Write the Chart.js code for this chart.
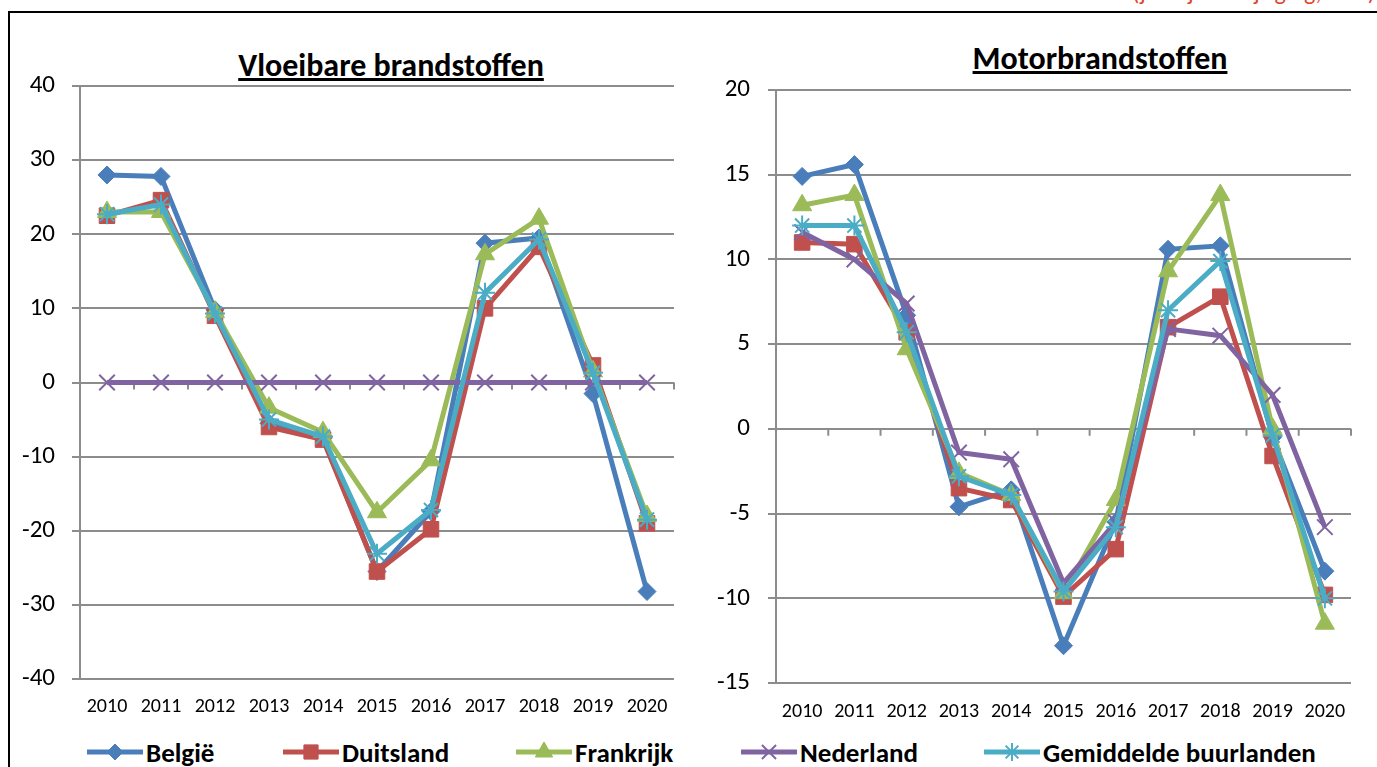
<!DOCTYPE html>
<html>
<head>
  <title>Vloeibare brandstoffen en motorbrandstoffen</title>
  <script src="https://cdn.jsdelivr.net/npm/chart.js"></script>
  <style>
    body {
      margin: 0;
      background: #fff;
      width: 1377px;
      height: 767px;
      overflow: hidden;
      position: relative;
      font-family: Carlito, 'Liberation Sans', Arial, sans-serif;
    }
    .frame {
      position: absolute;
      left: 8px;
      top: 11px;
      width: 1400px;
      height: 800px;
      border-top: 2px solid #000;
      border-left: 2px solid #000;
    }
    .note {
      position: absolute;
      right: 2px;
      top: -20px;
      color: #e0442a;
      font-size: 24px;
      line-height: 24px;
      white-space: nowrap;
    }
    .title {
      position: absolute;
      width: 420px;
      font-weight: bold;
      font-size: 32px;
      line-height: 36px;
      text-decoration: underline;
      text-align: center;
    }
    .box { position: absolute; }
    .item {
      position: absolute;
      top: 737px;
      height: 30px;
      display: flex;
      align-items: center;
      font-weight: bold;
      font-size: 27px;
      white-space: nowrap;
    }
    .item canvas { margin-right: 2px; }
  </style>
</head>
<body>

  <div class="note">(jaarlijkse wijziging, in %)</div>
  <div class="frame"></div>

  <div class="title" style="left:181px; top:48px;">Vloeibare brandstoffen</div>
  <div class="title" style="left:890px; top:41px;">Motorbrandstoffen</div>

  <canvas id="leftChart" class="box" width="680" height="660" style="left:10px; top:66px;"></canvas>
  <canvas id="rightChart" class="box" width="670" height="660" style="left:700px; top:70px;"></canvas>

  <div id="legend"></div>

  <script>
    // categories
    const years = ['2010', '2011', '2012', '2013', '2014', '2015', '2016', '2017', '2018', '2019', '2020'];
    const seriesNames = ['België', 'Duitsland', 'Frankrijk', 'Nederland', 'Gemiddelde buurlanden'];

    // Vloeibare brandstoffen (left)
    const belgieVloei = [28.0, 27.8, 9.8, -5.5, -7.5, -25.5, -17.4, 18.8, 19.5, -1.5, -28.2];
    const duitsVloei  = [22.5, 24.6, 9.0, -6.0, -7.7, -25.5, -19.8, 10.0, 18.3, 2.3, -19.0];
    const frankVloei  = [23.0, 23.0, 9.5, -3.4, -6.7, -17.5, -10.5, 17.3, 22.1, 1.5, -18.0];
    const nedVloei    = [0, 0, 0, 0, 0, 0, 0, 0, 0, 0, 0];
    const gemVloei    = [22.7, 24.0, 9.3, -5.0, -7.3, -23.1, -17.2, 12.1, 19.3, 1.3, -18.5];

    // Motorbrandstoffen (right)
    const belgieMotor = [14.9, 15.6, 6.7, -4.6, -3.6, -12.8, -5.5, 10.6, 10.8, -0.5, -8.4];
    const duitsMotor  = [11.0, 10.9, 5.7, -3.5, -4.2, -9.9, -7.1, 6.0, 7.8, -1.6, -9.8];
    const frankMotor  = [13.2, 13.8, 4.7, -2.6, -3.9, -9.7, -4.2, 9.3, 13.8, 0.0, -11.5];
    const nedMotor    = [11.6, 10.0, 7.4, -1.4, -1.8, -9.1, -5.5, 5.9, 5.5, 2.0, -5.8];
    const gemMotor    = [12.0, 12.0, 5.7, -2.8, -3.9, -9.6, -5.8, 7.0, 9.9, -0.4, -10.0];

    // axis ranges [min, max, step]
    const leftAxis = [-40, 40, 10];
    const rightAxis = [-15, 20, 5];

    const colors = ['#4a7ebb', '#c0504d', '#9bbb59', '#8064a2', '#4bacc6'];
    const styles = ['rectRot', 'rect', 'triangle', 'crossRot', 'star'];
    const radii = [9, 11, 11, 11, 10];
    const gridColor = '#8c8c8c';
    const fontFamily = "Carlito, 'Liberation Sans', Arial, sans-serif";

    // little tick marks on the category axis (at zero), between categories
    const catTicks = {
      id: 'catTicks',
      beforeDatasetsDraw(chart) {
        const x = chart.scales.x, y = chart.scales.y, ctx = chart.ctx;
        const y0 = y.getPixelForValue(0);
        const w = (x.right - x.left) / years.length;
        ctx.save();
        ctx.strokeStyle = gridColor;
        ctx.lineWidth = 2;
        ctx.beginPath();
        for (let i = 0; i <= years.length; i++) {
          const px = x.left + i * w;
          ctx.moveTo(px, y0);
          ctx.lineTo(px, y0 + 7);
        }
        ctx.stroke();
        ctx.restore();
      }
    };

    function makeChart(id, data, axis, yWidth, padRight, yPad, xPad) {
      const datasets = data.map((vals, i) => ({
        label: seriesNames[i],
        data: vals,
        borderColor: colors[i],
        backgroundColor: colors[i],
        borderWidth: 5,
        pointStyle: styles[i],
        pointRadius: radii[i],
        pointBorderWidth: i >= 3 ? 2 : 1,
        tension: 0,
        order: 4 - i
      }));
      return new Chart(document.getElementById(id), {
        type: 'line',
        data: { labels: years, datasets: datasets },
        options: {
          responsive: false,
          animation: false,
          layout: { padding: { top: 20, right: padRight, left: 0, bottom: 0 } },
          plugins: { legend: { display: false }, tooltip: { enabled: false } },
          scales: {
            x: {
              offset: true,
              grid: { display: false, drawTicks: false },
              border: { display: false },
              ticks: { color: '#000', padding: xPad, maxRotation: 0, font: { family: fontFamily, size: 20 } },
              afterFit: s => { s.height = 47; }
            },
            y: {
              min: axis[0],
              max: axis[1],
              ticks: { stepSize: axis[2], color: '#000', padding: yPad, font: { family: fontFamily, size: 25 } },
              grid: { color: gridColor, lineWidth: 2, tickLength: 8, tickColor: gridColor },
              border: { display: true, color: gridColor, width: 2 },
              afterFit: s => { s.width = yWidth; s.paddingTop = 0; s.paddingBottom = 0; }
            }
          }
        },
        plugins: [catTicks]
      });
    }

    makeChart('leftChart', [belgieVloei, duitsVloei, frankVloei, nedVloei, gemVloei], leftAxis, 70, 16, 17, 16);
    makeChart('rightChart', [belgieMotor, duitsMotor, frankMotor, nedMotor, gemMotor], rightAxis, 76, 19, 18, 17);

    // shared legend at the bottom
    const legendX = [86, 282, 515, 740, 983];
    const legend = document.getElementById('legend');
    seriesNames.forEach((name, i) => {
      const item = document.createElement('div');
      item.className = 'item';
      item.style.left = legendX[i] + 'px';
      const c = document.createElement('canvas');
      c.width = 58; c.height = 28;
      item.appendChild(c);
      item.appendChild(document.createTextNode(name));
      legend.appendChild(item);
      const ctx = c.getContext('2d');
      ctx.strokeStyle = colors[i];
      ctx.lineWidth = 5;
      ctx.beginPath(); ctx.moveTo(1, 14); ctx.lineTo(57, 14); ctx.stroke();
      ctx.fillStyle = colors[i];
      ctx.lineWidth = i >= 3 ? 2 : 1;
      Chart.helpers.drawPoint(ctx, { pointStyle: styles[i], radius: radii[i] - 1, borderWidth: ctx.lineWidth }, 29, 14);
      ctx.fill();
    });
  </script>

</body>
</html>
